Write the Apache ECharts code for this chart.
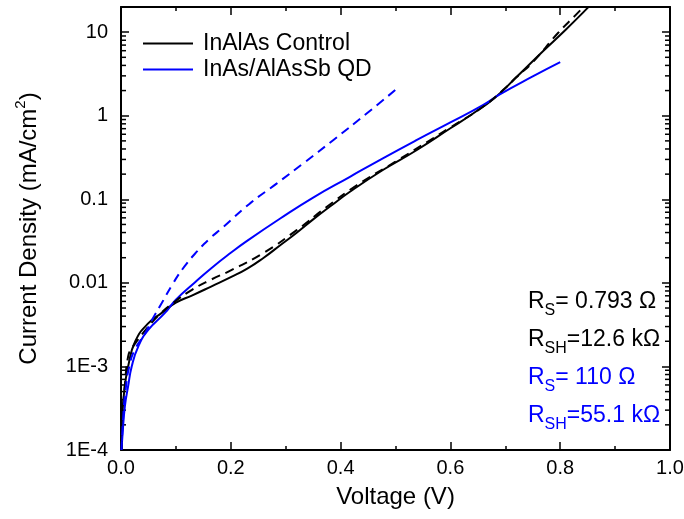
<!DOCTYPE html>
<html>
<head>
<meta charset="utf-8">
<script src="https://cdn.jsdelivr.net/npm/echarts@6/dist/echarts.min.js"></script>
<style>html,body{margin:0;padding:0;background:#fff;}#c{width:684px;height:519px;}</style>
</head>
<body>
<div id="c"></div>
<script>
// ---- data ----
const ctrlV    = [0.001, 0.002, 0.006, 0.013, 0.026, 0.05, 0.075, 0.1, 0.13, 0.165, 0.2, 0.23, 0.26, 0.29, 0.32, 0.35, 0.38, 0.417, 0.477, 0.539, 0.6, 0.64, 0.68, 0.72, 0.77, 0.81, 0.85, 0.86];
const ctrlJ    = [1.0e-4, 2.1e-4, 5.2e-4, 1.0e-3, 2.0e-3, 3.3e-3, 4.4e-3, 5.8e-3, 7.1e-3, 9.1e-3, 0.0117, 0.0148, 0.0200, 0.0282, 0.0398, 0.0575, 0.0813, 0.123, 0.224, 0.389, 0.708, 1.05, 1.62, 2.88, 6.03, 10.7, 19.5, 22.9];
const ctrlFitV = [0.001, 0.003, 0.007, 0.013, 0.02, 0.031, 0.049, 0.07, 0.095, 0.13, 0.165, 0.2, 0.26, 0.32, 0.375, 0.43, 0.5, 0.6, 0.66, 0.7, 0.72, 0.75, 0.796, 0.832, 0.85];
const ctrlFitJ = [1.0e-4, 2.5e-4, 5.8e-4, 1.32e-3, 1.66e-3, 2.09e-3, 2.95e-3, 4.17e-3, 5.75e-3, 8.3e-3, 0.011, 0.0141, 0.0229, 0.0427, 0.0813, 0.148, 0.282, 0.724, 1.29, 2.14, 2.88, 4.37, 9.77, 17.0, 22.9];
const qdV      = [0.001, 0.003, 0.007, 0.013, 0.0195, 0.0316, 0.05, 0.08, 0.1, 0.135, 0.165, 0.2, 0.229, 0.29, 0.35, 0.417, 0.477, 0.539, 0.6, 0.66, 0.69, 0.75, 0.8];
const qdJ      = [1.0e-4, 1.6e-4, 3.3e-4, 5.8e-4, 1.0e-3, 1.74e-3, 2.75e-3, 4.37e-3, 6.3e-3, 0.0102, 0.0151, 0.0229, 0.0316, 0.0589, 0.105, 0.186, 0.309, 0.513, 0.832, 1.35, 1.80, 2.95, 4.37];
const qdFitV   = [0.001, 0.004, 0.008, 0.015, 0.025, 0.044, 0.056, 0.074, 0.095, 0.115, 0.138, 0.16, 0.186, 0.235, 0.284, 0.332, 0.387, 0.448, 0.5];
const qdFitJ   = [1.0e-4, 2.5e-4, 5.0e-4, 1.0e-3, 1.58e-3, 2.5e-3, 3.55e-3, 5.7e-3, 9.9e-3, 0.0155, 0.0236, 0.0331, 0.0465, 0.0893, 0.155, 0.269, 0.513, 1.07, 2.04];

const seriesNames = ['InAlAs Control', 'InAs/AlAsSb QD'];
const yTickLabels = ['1E-4', '1E-3', '0.01', '0.1', '1', '10'];
const xTickLabels = ['0.0', '0.2', '0.4', '0.6', '0.8', '1.0'];
const annotations = [
  {sub: 'S',  rest: '= 0.793 \u03A9', color: '#000000'},
  {sub: 'SH', rest: '=12.6 k\u03A9',  color: '#000000'},
  {sub: 'S',  rest: '= 110 \u03A9',   color: '#0000ff'},
  {sub: 'SH', rest: '=55.1 k\u03A9',  color: '#0000ff'}
];

const FONT = '"Liberation Sans", Arial, sans-serif';
const BLUE = '#0000ff';
const zip = (a, b) => a.map((v, i) => [v, b[i]]);

// minor log tick values (2..9 per decade)
const minorVals = [];
for (let d = -4; d <= 0; d++) for (let m = 2; m <= 9; m++) minorVals.push([0, m * Math.pow(10, d)]);

function yLabel(v) {
  const l = Math.log10(v);
  const r = Math.round(l);
  if (Math.abs(l - r) > 1e-6) return '';
  const idx = r + 4;
  return yTickLabels[idx] !== undefined ? yTickLabels[idx] : '';
}
function xLabel(v) {
  const idx = Math.round(v / 0.2);
  return Math.abs(v - idx * 0.2) < 1e-6 ? xTickLabels[idx] : '';
}

const axisLineStyle = {color: '#000', width: 2};
const chart = echarts.init(document.getElementById('c'), null, {renderer: 'canvas'});

const baseX = {
  type: 'value', min: 0, max: 1, interval: 0.2,
  axisLine: {show: true, onZero: false, lineStyle: axisLineStyle},
  axisTick: {show: true, inside: true, length: 8, lineStyle: {color: '#000', width: 1.5}},
  minorTick: {show: true, splitNumber: 2, length: 4, lineStyle: {color: '#000', width: 1.5}},
  splitLine: {show: false}
};
const baseY = {
  type: 'log', logBase: 10, min: 1e-4, max: 20,
  axisLine: {show: true, onZero: false, lineStyle: axisLineStyle},
  axisTick: {show: true, inside: true, length: 8, lineStyle: {color: '#000', width: 1.5}},
  splitLine: {show: false}
};

const richR = (color) => ({
  r: {fontFamily: FONT, fontSize: 23, fill: color, color: color, lineHeight: 25, verticalAlign: 'top'},
  s: {fontFamily: FONT, fontSize: 16, fill: color, color: color, lineHeight: 16, padding: [13, 0, 0, 0], verticalAlign: 'top'}
});

const annTop = [290, 328, 366, 404];
const graphics = annotations.map((a, i) => ({
  type: 'text', left: 528, top: annTop[i],
  style: {text: '{r|R}{s|' + a.sub + '}{r|' + a.rest + '}', fill: a.color, rich: richR(a.color)}
}));

const lineSeries = (name, v, j, color, dashed) => ({
  name: name, type: 'line', data: zip(v, j), showSymbol: false, symbol: 'none',
  smooth: 0.5,
  lineStyle: {color: color, width: 2, type: dashed ? [9, 6] : 'solid'},
  itemStyle: {color: color}, clip: true
});

const option = {
  backgroundColor: '#fff',
  animation: false,
  grid: {left: 121, right: 14, top: 7, bottom: 69, containLabel: false, outerBoundsMode: 'none'},
  legend: {
    data: [{name: seriesNames[0], icon: 'rect'}, {name: seriesNames[1], icon: 'rect'}],
    orient: 'vertical', left: 138, top: 27,
    itemWidth: 50, itemHeight: 2, itemGap: 3,
    textStyle: {fontFamily: FONT, fontSize: 23, color: '#000', padding: [0, 0, 0, 5]},
    selectedMode: false
  },
  xAxis: [
    Object.assign({}, baseX, {
      position: 'bottom',
      axisLabel: {show: true, margin: 8, fontFamily: FONT, fontSize: 20, color: '#000', formatter: xLabel},
      name: 'Voltage (V)', nameLocation: 'middle', nameGap: 35,
      nameTextStyle: {fontFamily: FONT, fontSize: 24, color: '#000'}
    }),
    Object.assign({}, baseX, {position: 'top', axisLabel: {show: false}})
  ],
  yAxis: [
    Object.assign({}, baseY, {
      position: 'left',
      axisLabel: {show: true, margin: 13, fontFamily: FONT, fontSize: 20, color: '#000', formatter: yLabel},
      name: '{a|Current Density (mA/cm}{b|2}{a|)}', nameLocation: 'middle', nameGap: 86,
      nameTextStyle: {
        rich: {
          a: {fontFamily: FONT, fontSize: 24, color: '#000', lineHeight: 24, padding: [6, 0, 0, 0], verticalAlign: 'top'},
          b: {fontFamily: FONT, fontSize: 15, color: '#000', lineHeight: 15, padding: [2, 0, 0, 0], verticalAlign: 'top'}
        }
      }
    }),
    Object.assign({}, baseY, {position: 'right', axisLabel: {show: false}})
  ],
  graphic: graphics,
  series: [
    lineSeries(seriesNames[0], ctrlV, ctrlJ, '#000', false),
    lineSeries(seriesNames[1], qdV, qdJ, BLUE, false),
    lineSeries('InAlAs Control fit', ctrlFitV, ctrlFitJ, '#000', true),
    lineSeries('InAs/AlAsSb QD fit', qdFitV, qdFitJ, BLUE, true),
    {name: 'minor', type: 'custom', silent: true, data: minorVals, encode: {x: 0, y: 1},
     renderItem: function (params, api) {
       const p = api.coord([0, api.value(1)]);
       const cs = params.coordSys;
       const st = {stroke: '#000', lineWidth: 1.5};
       return {type: 'group', children: [
         {type: 'line', shape: {x1: cs.x, y1: p[1], x2: cs.x + 5, y2: p[1]}, style: st},
         {type: 'line', shape: {x1: cs.x + cs.width - 5, y1: p[1], x2: cs.x + cs.width, y2: p[1]}, style: st}
       ]};
     }}
  ]
};
chart.setOption(option);
</script>
</body>
</html>
